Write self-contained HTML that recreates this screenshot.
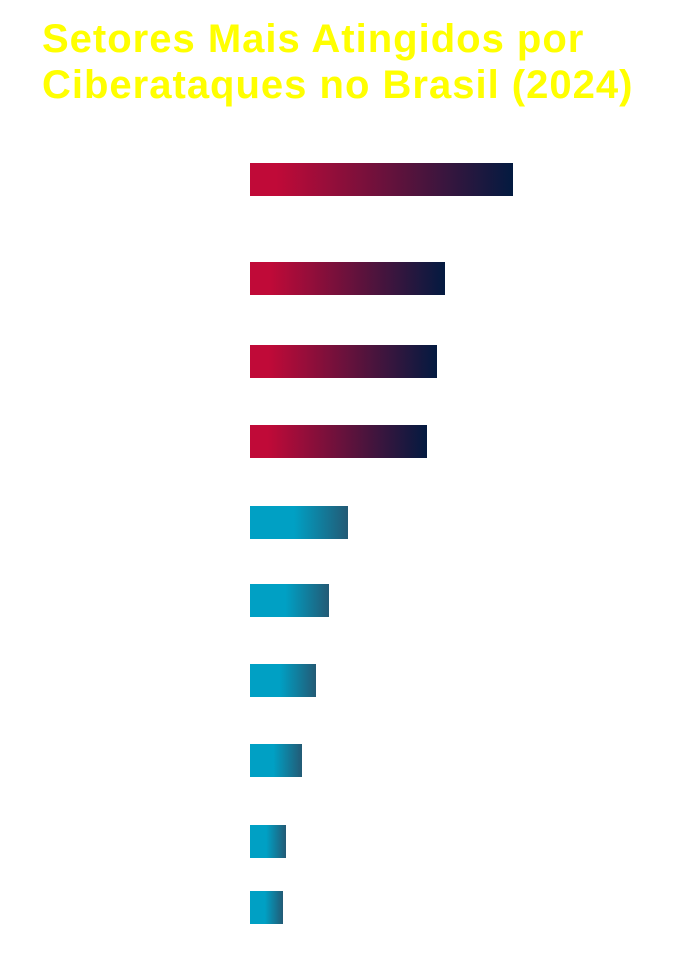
<!DOCTYPE html>
<html><head><meta charset="utf-8"><style>
html,body{margin:0;padding:0;background:#fff;}
body{width:678px;height:963px;position:relative;overflow:hidden;font-family:"Liberation Sans",sans-serif;}
h1{position:absolute;left:42px;top:16px;margin:0;color:#ffff00;font-size:40px;line-height:46px;font-weight:bold;letter-spacing:1px;white-space:nowrap;}
.b{position:absolute;left:250px;height:33px;}
.r{background:linear-gradient(to right,#c00a38 0%,#c00a38 10%,#031a40 100%);}
.c{background:linear-gradient(to right,#00a0c4 0%,#00a0c4 45%,#235a75 100%);}
</style></head><body>
<h1>Setores Mais Atingidos por<br>Ciberataques no Brasil (2024)</h1>
<div class="b r" style="top:163px;width:263px"></div>
<div class="b r" style="top:262px;width:195px"></div>
<div class="b r" style="top:345px;width:187px"></div>
<div class="b r" style="top:425px;width:177px"></div>
<div class="b c" style="top:506px;width:98px"></div>
<div class="b c" style="top:584px;width:79px"></div>
<div class="b c" style="top:664px;width:66px"></div>
<div class="b c" style="top:744px;width:52px"></div>
<div class="b c" style="top:825px;width:36px"></div>
<div class="b c" style="top:891px;width:33px"></div>
</body></html>
